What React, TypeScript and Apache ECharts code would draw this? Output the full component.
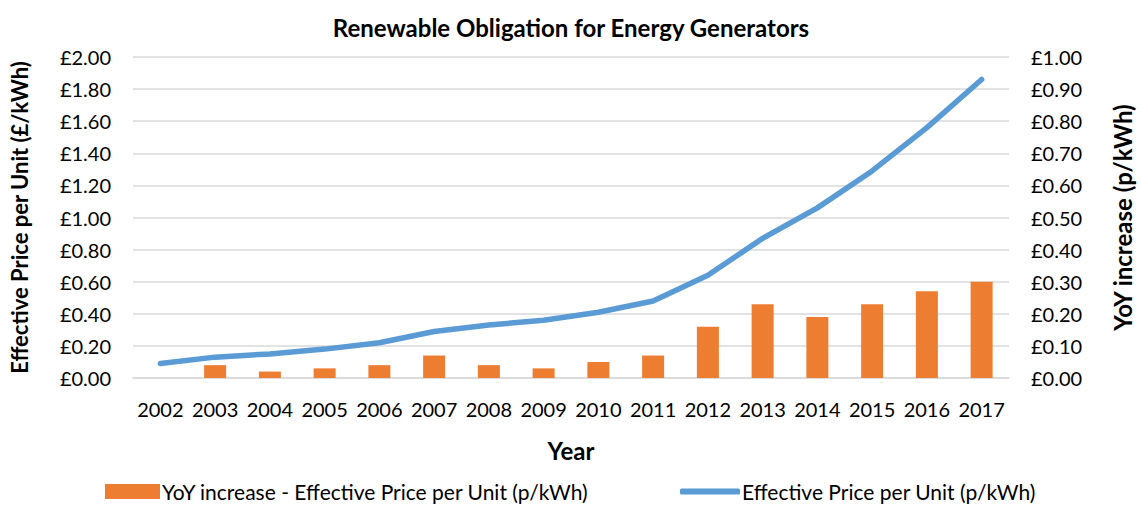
import React, { useEffect, useRef } from "react";
import * as echarts from "echarts";

const years = ["2002","2003","2004","2005","2006","2007","2008","2009","2010","2011","2012","2013","2014","2015","2016","2017"];
const yoyIncrease = [null, 0.04, 0.02, 0.03, 0.04, 0.07, 0.04, 0.03, 0.05, 0.07, 0.16, 0.23, 0.19, 0.23, 0.27, 0.30];
const effectivePrice = [0.09, 0.13, 0.15, 0.18, 0.22, 0.29, 0.33, 0.36, 0.41, 0.48, 0.64, 0.87, 1.06, 1.29, 1.56, 1.86];

const FONT = "Lato, 'Open Sans', sans-serif";
const BAR_NAME = "YoY increase - Effective Price per Unit (p/kWh)";
const LINE_NAME = "Effective Price per Unit (p/kWh)";

export default function App() {
  const ref = useRef<HTMLDivElement>(null);
  useEffect(() => {
    if (!ref.current) return;
    const chart = echarts.init(ref.current, null, { renderer: "svg" });
    const legendText = { fontFamily: FONT, fontSize: 21, color: "#000", padding: [0, 0, 0, -3] };
    chart.setOption({
      animation: false,
      backgroundColor: "#ffffff",
      textStyle: { fontFamily: FONT },
      title: {
        text: "Renewable Obligation for Energy Generators",
        left: "center",
        top: 10,
        textStyle: { fontFamily: FONT, fontSize: 24, fontWeight: "bold", color: "#000" },
      },
      grid: { left: 125, right: 118, top: 57, bottom: 128 },
      legend: [
        {
          left: 105,
          top: 481,
          padding: 0,
          itemWidth: 55,
          itemHeight: 15,
          textStyle: legendText,
          data: [{ name: BAR_NAME, icon: "rect" }],
        },
        {
          left: 680,
          top: 481,
          padding: 0,
          itemWidth: 60,
          itemHeight: 6,
          textStyle: legendText,
          data: [{ name: LINE_NAME, icon: "roundRect" }],
        },
      ],
      xAxis: {
        type: "category",
        data: years,
        name: "Year",
        nameLocation: "middle",
        nameGap: 60,
        nameTextStyle: { fontFamily: FONT, fontSize: 24, fontWeight: "bold", color: "#000" },
        axisLine: { lineStyle: { color: "#d9d9d9", width: 1.5 } },
        axisTick: { show: false },
        axisLabel: { fontFamily: FONT, fontSize: 20, color: "#000", margin: 21, interval: 0 },
      },
      yAxis: [
        {
          type: "value",
          min: 0,
          max: 2,
          interval: 0.2,
          name: "Effective Price per Unit (£/kWh)",
          nameLocation: "middle",
          nameGap: 103,
          nameTextStyle: { fontFamily: FONT, fontSize: 22, fontWeight: "bold", color: "#000" },
          axisLine: { show: false },
          axisTick: { show: false },
          axisLabel: { fontFamily: FONT, fontSize: 20, color: "#000", margin: 22, formatter: (v: number) => "£" + v.toFixed(2) },
          splitLine: { lineStyle: { color: "#d9d9d9", width: 1.5 } },
        },
        {
          type: "value",
          min: 0,
          max: 1,
          interval: 0.1,
          name: "YoY increase (p/kWh)",
          nameLocation: "middle",
          nameGap: 101,
          nameTextStyle: { fontFamily: FONT, fontSize: 24, fontWeight: "bold", color: "#000" },
          axisLine: { show: false },
          axisTick: { show: false },
          axisLabel: { fontFamily: FONT, fontSize: 20, color: "#000", margin: 22, formatter: (v: number) => "£" + v.toFixed(2) },
          splitLine: { show: false },
        },
      ],
      series: [
        {
          name: BAR_NAME,
          type: "bar",
          yAxisIndex: 1,
          data: yoyIncrease,
          barWidth: 22,
          itemStyle: { color: "#ED7D31" },
        },
        {
          name: LINE_NAME,
          type: "line",
          yAxisIndex: 0,
          data: effectivePrice,
          showSymbol: false,
          symbol: "none",
          lineStyle: { color: "#5B9BD5", width: 5.5, cap: "round", join: "round" },
          itemStyle: { color: "#5B9BD5" },
        },
      ],
    });
    return () => chart.dispose();
  }, []);
  return <div ref={ref} style={{ width: 1142, height: 506, position: "absolute", left: 0, top: 0 }} />;
}
